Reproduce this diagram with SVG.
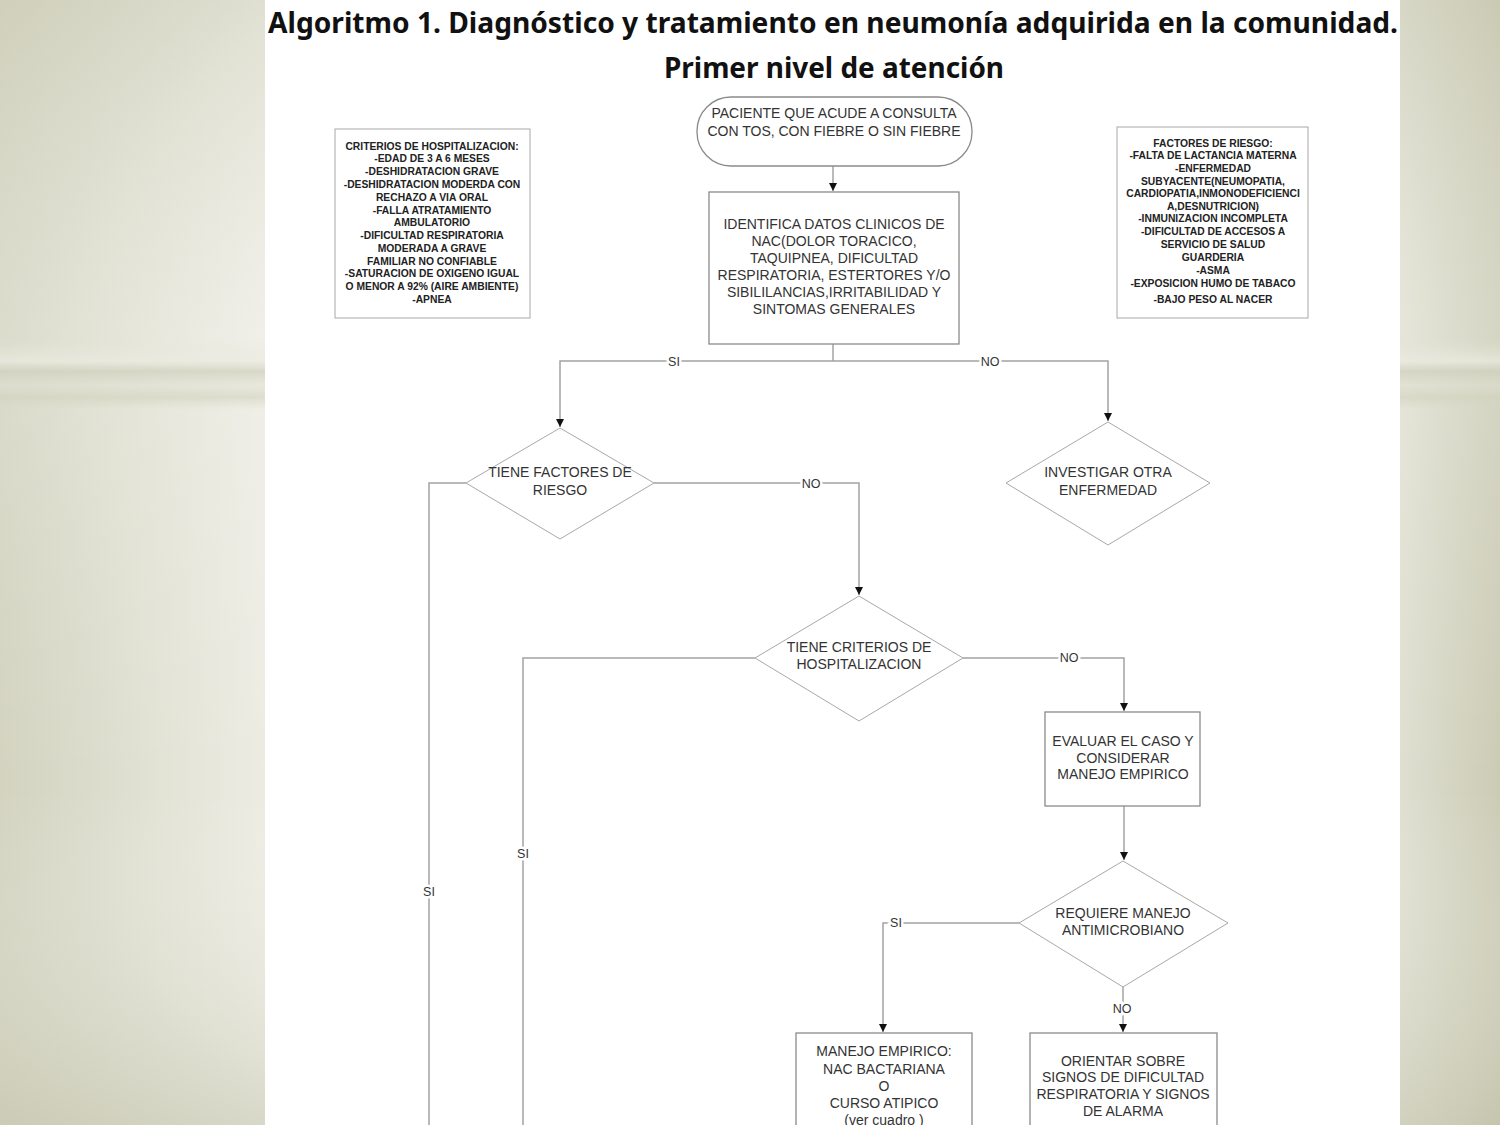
<svg xmlns="http://www.w3.org/2000/svg" width="1500" height="1125" viewBox="0 0 1500 1125">
<defs>
<linearGradient id="bgL" x1="0" y1="0" x2="1" y2="0">
<stop offset="0" stop-color="#d3d3c0"/>
<stop offset="1" stop-color="#ecece3"/>
</linearGradient>
<linearGradient id="bgR" x1="0" y1="0" x2="1" y2="0">
<stop offset="0" stop-color="#dfdfd1"/>
<stop offset="1" stop-color="#cbcbb5"/>
</linearGradient>
<linearGradient id="band" x1="0" y1="0" x2="0" y2="1">
<stop offset="0" stop-color="#e6e6da" stop-opacity="0"/>
<stop offset="0.3" stop-color="#ebebe1" stop-opacity="0.7"/>
<stop offset="0.45" stop-color="#cfcfbc" stop-opacity="0.7"/>
<stop offset="0.65" stop-color="#dfdfd0" stop-opacity="0.5"/>
<stop offset="0.82" stop-color="#d2d2be" stop-opacity="0.6"/>
<stop offset="1" stop-color="#d8d8c6" stop-opacity="0"/>
</linearGradient>
<linearGradient id="vshade" x1="0" y1="0" x2="0" y2="1">
<stop offset="0" stop-color="#c8c8b2" stop-opacity="0.35"/>
<stop offset="0.3" stop-color="#ffffff" stop-opacity="0.2"/>
<stop offset="0.7" stop-color="#ffffff" stop-opacity="0"/>
<stop offset="1" stop-color="#c0c0a8" stop-opacity="0.45"/>
</linearGradient>
<marker id="arr" viewBox="0 0 10 10" refX="10" refY="5" markerWidth="8" markerHeight="8" markerUnits="userSpaceOnUse" orient="auto">
<path d="M0,0 L10,5 L0,10 z" fill="#111"/>
</marker>
<style>
.title{font-family:"Noto Sans","Open Sans","Liberation Sans",sans-serif;font-weight:bold;font-size:28px;fill:#111}
.t{font-family:"Liberation Sans",Arial,sans-serif;font-size:14px;fill:#333;text-anchor:middle}
.s{font-family:"Liberation Sans",Arial,sans-serif;font-size:10.3px;font-weight:bold;fill:#222;text-anchor:middle}
.box{fill:#fff;stroke:#8a8a8a;stroke-width:1.3}
.thin{fill:#fff;stroke:#a8a8a8;stroke-width:1}
.c{fill:none;stroke:#a3a3a3;stroke-width:1.5}
.lbl{font-family:"Liberation Sans",Arial,sans-serif;font-size:12.5px;fill:#333;text-anchor:middle;stroke:#fff;stroke-width:5;paint-order:stroke}
</style>
</defs>
<rect x="0" y="0" width="265" height="1125" fill="url(#bgL)"/>
<rect x="0" y="0" width="265" height="1125" fill="url(#vshade)"/>
<rect x="0" y="340" width="265" height="70" fill="url(#band)"/>
<rect x="1400" y="0" width="100" height="1125" fill="url(#bgR)"/>
<rect x="1400" y="0" width="100" height="1125" fill="url(#vshade)"/>
<rect x="1400" y="340" width="100" height="70" fill="url(#band)"/>
<rect x="265" y="0" width="1135" height="1125" fill="#fff"/>

<g id="title">
<text class="title" x="268" y="33" textLength="1130" lengthAdjust="spacingAndGlyphs">Algoritmo 1. Diagnóstico y tratamiento en neumonía adquirida en la comunidad.</text>
<text class="title" x="664" y="78" textLength="340" lengthAdjust="spacingAndGlyphs">Primer nivel de atención</text>
</g>

<g id="connectors">
<line class="c" x1="833" y1="166" x2="833" y2="191" marker-end="url(#arr)" stroke-width="2.5"/>
<polyline class="c" points="833,344 833,361"/>
<polyline class="c" points="833,361 560,361 560,427" marker-end="url(#arr)"/>
<polyline class="c" points="833,361 1108,361 1108,421" marker-end="url(#arr)"/>
<polyline class="c" points="466,483 429,483 429,1125"/>
<polyline class="c" points="654,483 859,483 859,595" marker-end="url(#arr)"/>
<polyline class="c" points="755,658 523,658 523,1125" stroke="#c8c8c8"/>
<polyline class="c" points="963,658 1124,658 1124,711" marker-end="url(#arr)"/>
<line class="c" x1="1124" y1="806" x2="1124" y2="860" marker-end="url(#arr)"/>
<polyline class="c" points="1019,923 883,923 883,1032" marker-end="url(#arr)"/>
<line class="c" x1="1123" y1="987" x2="1123" y2="1032" marker-end="url(#arr)"/>
<text class="lbl" x="674" y="366">SI</text>
<text class="lbl" x="990" y="366">NO</text>
<text class="lbl" x="811" y="488">NO</text>
<text class="lbl" x="1069" y="662">NO</text>
<text class="lbl" x="523" y="858">SI</text>
<text class="lbl" x="429" y="896">SI</text>
<text class="lbl" x="896" y="927">SI</text>
<text class="lbl" x="1122" y="1013">NO</text>
</g>

<g id="criterios">
<rect class="thin" x="335" y="129" width="195" height="189"/>
<text class="s" x="432" y="150">CRITERIOS DE HOSPITALIZACION:</text>
<text class="s" x="432" y="162">-EDAD DE 3 A 6 MESES</text>
<text class="s" x="432" y="175">-DESHIDRATACION GRAVE</text>
<text class="s" x="432" y="188">-DESHIDRATACION MODERDA CON</text>
<text class="s" x="432" y="201">RECHAZO A VIA ORAL</text>
<text class="s" x="432" y="214">-FALLA ATRATAMIENTO</text>
<text class="s" x="432" y="226">AMBULATORIO</text>
<text class="s" x="432" y="239">-DIFICULTAD RESPIRATORIA</text>
<text class="s" x="432" y="252">MODERADA A GRAVE</text>
<text class="s" x="432" y="265">FAMILIAR NO CONFIABLE</text>
<text class="s" x="432" y="277">-SATURACION DE OXIGENO IGUAL</text>
<text class="s" x="432" y="290">O MENOR A 92% (AIRE AMBIENTE)</text>
<text class="s" x="432" y="303">-APNEA</text>
</g>

<g id="factores">
<rect class="thin" x="1117" y="127" width="191" height="191"/>
<text class="s" x="1213" y="147">FACTORES DE RIESGO:</text>
<text class="s" x="1213" y="159">-FALTA DE LACTANCIA MATERNA</text>
<text class="s" x="1213" y="172">-ENFERMEDAD</text>
<text class="s" x="1213" y="185">SUBYACENTE(NEUMOPATIA,</text>
<text class="s" x="1213" y="197">CARDIOPATIA,INMONODEFICIENCI</text>
<text class="s" x="1213" y="210">A,DESNUTRICION)</text>
<text class="s" x="1213" y="222">-INMUNIZACION INCOMPLETA</text>
<text class="s" x="1213" y="235">-DIFICULTAD DE ACCESOS A</text>
<text class="s" x="1213" y="248">SERVICIO DE SALUD</text>
<text class="s" x="1213" y="261">GUARDERIA</text>
<text class="s" x="1213" y="274">-ASMA</text>
<text class="s" x="1213" y="287">-EXPOSICION HUMO DE TABACO</text>
<text class="s" x="1213" y="303">-BAJO PESO AL NACER</text>
</g>

<g id="inicio">
<rect class="box" x="697" y="97" width="275" height="69" rx="34" ry="34"/>
<text class="t" x="834" y="118">PACIENTE QUE ACUDE A CONSULTA</text>
<text class="t" x="834" y="136">CON TOS, CON FIEBRE O SIN FIEBRE</text>
</g>

<g id="identifica">
<rect class="box" x="709" y="192" width="250" height="152"/>
<text class="t" x="834" y="229">IDENTIFICA DATOS CLINICOS DE</text>
<text class="t" x="834" y="246">NAC(DOLOR TORACICO,</text>
<text class="t" x="834" y="263">TAQUIPNEA, DIFICULTAD</text>
<text class="t" x="834" y="280">RESPIRATORIA, ESTERTORES Y/O</text>
<text class="t" x="834" y="297">SIBILILANCIAS,IRRITABILIDAD Y</text>
<text class="t" x="834" y="314">SINTOMAS GENERALES</text>
</g>

<g id="factores-dec">
<polygon class="thin" points="560,428 654,483 560,539 466,483"/>
<text class="t" x="560" y="477">TIENE FACTORES DE</text>
<text class="t" x="560" y="495">RIESGO</text>
</g>

<g id="investigar">
<polygon class="thin" points="1108,422 1210,483 1108,545 1006,483"/>
<text class="t" x="1108" y="477">INVESTIGAR OTRA</text>
<text class="t" x="1108" y="495">ENFERMEDAD</text>
</g>

<g id="criterios-dec">
<polygon class="thin" points="859,596 963,658 859,721 755,658"/>
<text class="t" x="859" y="652">TIENE CRITERIOS DE</text>
<text class="t" x="859" y="669">HOSPITALIZACION</text>
</g>

<g id="evaluar">
<rect class="box" x="1045" y="712" width="155" height="94"/>
<text class="t" x="1123" y="746">EVALUAR EL CASO Y</text>
<text class="t" x="1123" y="763">CONSIDERAR</text>
<text class="t" x="1123" y="779">MANEJO EMPIRICO</text>
</g>

<g id="requiere">
<polygon class="thin" points="1123,861 1228,923 1123,987 1019,923"/>
<text class="t" x="1123" y="918">REQUIERE MANEJO</text>
<text class="t" x="1123" y="935">ANTIMICROBIANO</text>
</g>

<g id="manejo">
<rect class="box" x="796" y="1033" width="176" height="100"/>
<text class="t" x="884" y="1056">MANEJO EMPIRICO:</text>
<text class="t" x="884" y="1074">NAC BACTARIANA</text>
<text class="t" x="884" y="1091">O</text>
<text class="t" x="884" y="1108">CURSO ATIPICO</text>
<text class="t" x="884" y="1125">(ver cuadro   )</text>
</g>

<g id="orientar">
<rect class="box" x="1030" y="1033" width="187" height="100"/>
<text class="t" x="1123" y="1066">ORIENTAR SOBRE</text>
<text class="t" x="1123" y="1082">SIGNOS DE DIFICULTAD</text>
<text class="t" x="1123" y="1099">RESPIRATORIA Y SIGNOS</text>
<text class="t" x="1123" y="1116">DE ALARMA</text>
</g>
</svg>
